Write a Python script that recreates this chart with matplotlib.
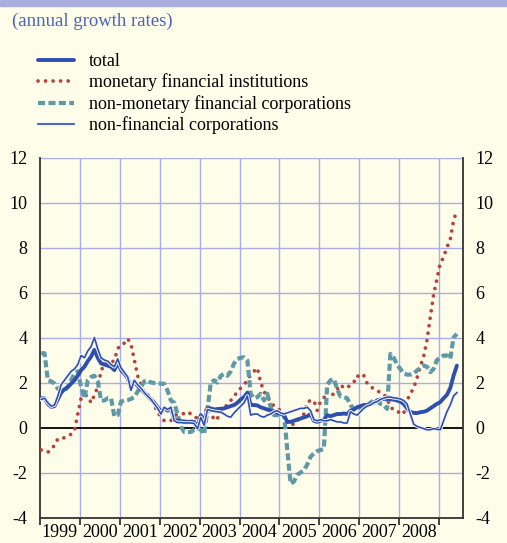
import matplotlib
matplotlib.use("Agg")
import matplotlib.pyplot as plt
import matplotlib.patheffects as pe
from matplotlib.patches import Rectangle
import numpy as np

# monthly data, Jan 1999 .. Jun 2009 (annual growth rates)
total = [1.3, 1.3, 1.05, 0.92, 0.95, 1.25, 1.55, 1.7, 1.8, 1.95, 2.1, 2.3,
         2.55, 2.7, 2.95, 3.15, 3.45, 3.1, 2.85, 2.8, 2.75, 2.7, 2.55, 2.9,
         2.55, 2.4, 2.2, 1.75, 2.05, 1.85, 1.7, 1.55, 1.4, 1.25, 1.1, 0.9,
         0.7, 0.85, 0.75, 0.85, 0.35, 0.3, 0.28, 0.27, 0.25, 0.26, 0.25, 0.0,
         0.55, 0.15, 0.85, 0.85, 0.8, 0.82, 0.83, 0.85, 0.9, 0.95, 1.0, 1.1,
         1.25, 1.35, 1.55, 1.0, 1.0, 0.98, 0.9, 0.85, 0.8, 0.75, 0.72, 0.65,
         0.6, 0.55, 0.25, 0.25, 0.3, 0.35, 0.4, 0.45, 0.5, 0.6, 0.3, 0.25,
         0.3, 0.35, 0.55, 0.5, 0.55, 0.6, 0.6, 0.62, 0.6, 0.75, 0.8, 0.9,
         0.95, 1.0, 1.0, 1.05, 1.1, 1.2, 1.25, 1.27, 1.28, 1.25, 1.24, 1.2,
         1.15, 1.05, 0.85, 0.7, 0.65, 0.64, 0.68, 0.7, 0.75, 0.85, 0.95, 1.05,
         1.13, 1.3, 1.45, 1.75, 2.3, 2.75]

mfi = [-1.0, -1.05, -1.1, -0.95, -0.8, -0.5, -0.5, -0.45, -0.38, -0.3, -0.15, 0.6,
       1.3, 1.45, 1.4, 1.1, 1.45, 1.8, 2.5, 2.85, 2.85, 2.85, 3.0, 3.5,
       3.7, 3.75, 3.95, 3.7, 3.0, 2.3, 1.9, 1.5, 1.45, 1.3, 1.0, 0.65,
       0.5, 0.3, 0.28, 0.3, 0.5, 0.6, 0.6, 0.62, 0.7, 0.6, 0.5, 0.4,
       0.38, 0.6, 0.9, 0.7, 0.32, 0.4, 0.75, 0.9, 1.0, 1.2, 1.38, 1.6,
       1.75, 1.9, 2.1, 2.35, 2.5, 2.65, 2.0, 1.6, 1.35, 1.15, 0.95, 0.85,
       0.75, 0.6, 0.16, 0.15, 0.14, 0.28, 0.45, 0.6, 1.13, 1.2, 1.2, 0.76,
       1.16, 1.3, 1.64, 1.46, 1.48, 1.7, 1.9, 1.76, 1.76, 1.9, 2.01, 2.31,
       2.2, 2.31, 1.97, 1.85, 1.7, 1.64, 1.55, 1.48, 1.3, 0.9, 0.8, 0.76,
       0.6, 0.62, 1.2, 1.5, 1.75, 2.2, 2.7, 3.16, 3.87, 4.9, 5.9, 6.6,
       7.3, 7.57, 8.0, 8.35, 9.2, 9.65]

ofi = [3.3, 3.3, 2.1, 2.05, 1.95, 1.72, 1.65, 1.64, 1.8, 2.1, 2.4, 2.5,
       1.8, 1.3, 2.1, 2.25, 2.3, 2.05, 1.2, 1.2, 1.3, 1.3, 0.5, 0.55,
       1.15, 1.2, 1.22, 1.27, 1.35, 1.6, 1.8, 2.05, 2.1, 2.0, 1.98, 1.96,
       1.95, 1.94, 1.64, 1.2, 1.1, 0.6, 0.05, -0.2, -0.2, -0.2, -0.1, -0.05,
       -0.1, -0.3, 0.8, 2.0, 2.1, 2.0, 2.3, 2.38, 2.3, 2.5, 2.85, 3.05,
       3.1, 3.12, 2.98, 1.5, 1.3, 1.35, 1.5, 1.2, 1.5, 0.9, 0.55, 0.55,
       0.55, 0.6, -1.0, -2.5, -2.4, -2.1, -2.0, -1.9, -1.65, -1.3, -1.15, -1.05,
       -1.0, -0.95, 1.9, 2.1, 2.16, 1.7, 1.38, 1.35, 1.3, 1.0, 0.83, 0.76,
       0.8, 0.9, 0.95, 1.1, 1.2, 1.2, 1.05, 1.0, 0.83, 3.27, 3.1, 2.8,
       2.6, 2.4, 2.35, 2.35, 2.4, 2.53, 2.65, 2.75, 2.7, 2.46, 2.6, 3.0,
       3.1, 3.2, 3.2, 3.05, 4.0, 4.16]

nfc = [1.25, 1.3, 1.1, 0.95, 1.0, 1.4, 1.9, 2.1, 2.3, 2.5, 2.6, 2.8,
       3.2, 3.1, 3.4, 3.6, 4.0, 3.5, 3.1, 3.0, 2.95, 2.8, 2.7, 3.05,
       2.65, 2.45, 2.25, 1.65, 2.1, 1.9, 1.75, 1.55, 1.4, 1.25, 1.05, 0.85,
       0.6, 0.9, 0.8, 0.9, 0.3, 0.22, 0.22, 0.2, 0.2, 0.2, 0.18, -0.06,
       0.45, 0.1, 0.8, 0.75, 0.72, 0.7, 0.68, 0.6, 0.5, 0.46, 0.65, 0.8,
       0.95, 1.1, 1.4, 0.55, 0.6, 0.6, 0.5, 0.46, 0.55, 0.6, 0.7, 0.75,
       0.65, 0.6, 0.65, 0.7, 0.75, 0.8, 0.85, 0.85, 0.9, 0.75, 0.35, 0.3,
       0.35, 0.3, 0.3, 0.35, 0.3, 0.25, 0.25, 0.2, 0.2, 0.7, 0.6, 0.55,
       0.7, 0.85, 0.95, 1.0, 1.1, 1.15, 1.25, 1.3, 1.35, 1.35, 1.32, 1.3,
       1.27, 1.2, 1.05, 0.6, 0.15, 0.05, 0.0, -0.05, -0.1, -0.1, -0.05, -0.08,
       -0.1, 0.3, 0.7, 1.0, 1.4, 1.55]

labels = ["total", "monetary financial institutions",
          "non-monetary financial corporations", "non-financial corporations"]
years = list(range(1999, 2009))

bg = "#FEFDE9"
blue = "#2E4FB0"
red = "#B8413A"
teal = "#5E99A8"
gridc = "#A9ACEA"

plt.rcParams['font.family'] = ['Liberation Serif', 'DejaVu Serif']

t = 1999.03 + np.arange(len(total)) / 12.0

fig = plt.figure(figsize=(5.07, 5.43), dpi=100, facecolor=bg)
fig.patches.append(Rectangle((0, 1 - 6 / 543), 1, 6 / 543, transform=fig.transFigure,
                             color="#A9AEDF", zorder=0))
fig.text(12 / 507, 1 - 21 / 543, "(annual growth rates)", color="#4A63B8",
         fontsize=13.5, va="center", ha="left")

ax = fig.add_axes([40 / 507, 25.5 / 543, 423 / 507, 360 / 543])
ax.set_facecolor(bg)

ax.set_xlim(1999.0, 2009.6)
ax.set_ylim(-4, 12)

# grid
for yv in range(-2, 13, 2):
    if yv != 0:
        ax.axhline(yv, color=gridc, lw=1.0, zorder=1)
for xv in range(2000, 2010):
    ax.axvline(xv, color=gridc, lw=1.0, zorder=1)
ax.axhline(0, color="black", lw=1.3, zorder=2)

l1, = ax.plot(t, total, color=blue, lw=2.8, zorder=4, solid_capstyle="round")
l2, = ax.plot(t, mfi, color=red, lw=2.7, zorder=3, linestyle=(0, (0.01, 2.0)),
              dash_capstyle="round")
l3, = ax.plot(t, ofi, color=teal, lw=3.0, zorder=3, linestyle=(0, (1.7, 0.8)))
l4, = ax.plot(t, nfc, color=blue, lw=1.2, zorder=5,
              path_effects=[pe.Stroke(linewidth=2.6, foreground="#F4F4FA"), pe.Normal()])

# axes styling
ax.spines["top"].set_visible(False)
for s in ["left", "right", "bottom"]:
    ax.spines[s].set_color("#333333")
    ax.spines[s].set_linewidth(1.3)

ax.set_yticks(range(-4, 13, 2))
ax.set_yticklabels([str(v) for v in range(-4, 13, 2)])
ax.tick_params(axis="y", length=0, labelsize=13, pad=9, left=True, right=True,
               labelleft=True, labelright=True)

ax.set_xticks(range(1999, 2010))
ax.set_xticklabels([])
ax.set_xticks([y + 0.5 for y in years], minor=True)
ax.set_xticklabels([str(y) for y in years], minor=True)
ax.tick_params(axis="x", which="major", direction="out", length=5, width=1.3, color="#333333")
ax.tick_params(axis="x", which="minor", length=0, labelsize=13, pad=5)

fig.legend([l1, l2, l3, l4], labels, loc="upper left",
           bbox_to_anchor=(38 / 507, 1 - 53 / 543), frameon=False, fontsize=13,
           handlelength=2.0, handletextpad=0.8, labelspacing=0.2,
           borderpad=0, borderaxespad=0)

fig.savefig("out.png", dpi=100, facecolor=bg)
